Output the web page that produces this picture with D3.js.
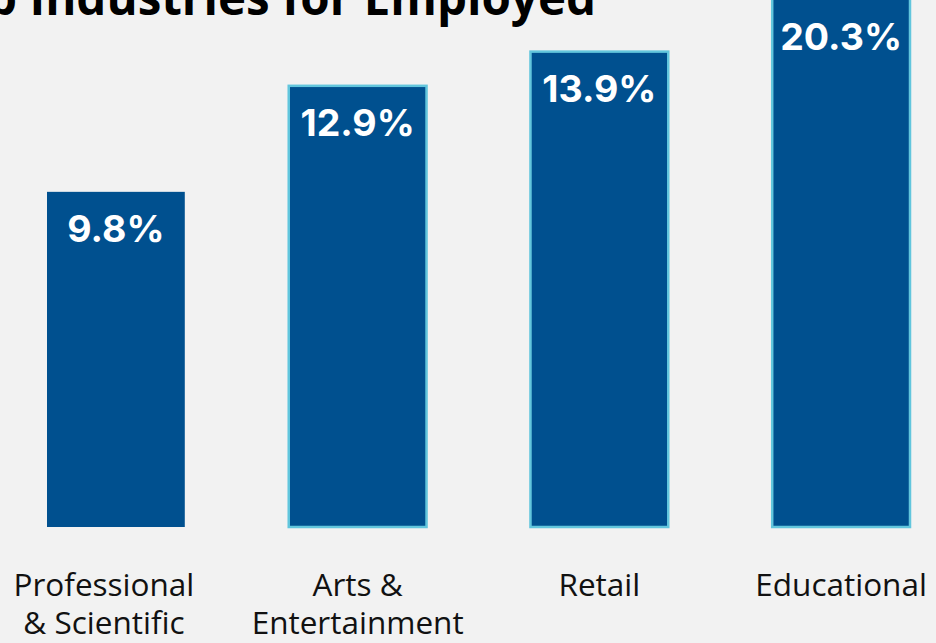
<!DOCTYPE html>
<html>
<head>
<meta charset="utf-8">
<script src="https://cdn.jsdelivr.net/npm/d3@7"></script>
<style>
  html, body { margin: 0; padding: 0; background: #f2f2f2; overflow: hidden; }
  svg { display: block; }
</style>
</head>
<body>
<div id="chart"></div>
<script>
// data
var categories = ["Professional\n& Scientific", "Arts &\nEntertainment", "Retail", "Educational"];
var values = [9.8, 12.9, 13.9, 20.3];
var title = "Top Industries for Employed";

var width = 936, height = 643;
var baseline = 527;

var svg = d3.select("#chart").append("svg")
    .attr("width", width)
    .attr("height", height)
    .attr("viewBox", [0, 0, width, height]);

svg.append("rect").attr("width", width).attr("height", height).attr("fill", "#f2f2f2");

var x = d3.scaleBand()
    .domain(d3.range(categories.length))
    .range([47, 910])
    .paddingInner(0.43)
    .paddingOuter(0);

var y = d3.scaleLinear()
    .domain([0, 15])
    .range([baseline, 14]);

// title, bleeding off the top-left like the slide
svg.append("text")
    .attr("x", 596)
    .attr("y", 15)
    .attr("text-anchor", "end")
    .attr("font-family", "'Open Sans', sans-serif")
    .attr("font-weight", 700)
    .attr("font-size", 47.5)
    .attr("fill", "#000")
    .text(title);

// bars
svg.append("g")
  .selectAll("rect")
  .data(values)
  .join("rect")
    .attr("x", (d, i) => x(i))
    .attr("y", d => y(d))
    .attr("width", x.bandwidth())
    .attr("height", d => y(0) - y(d))
    .attr("fill", "#00508f")
    .attr("stroke", (d, i) => i == 0 ? "none" : "#62c6dd")
    .attr("stroke-width", 2.5);

// value labels
svg.append("g")
  .selectAll("text")
  .data(values)
  .join("text")
    .attr("x", (d, i) => x(i) + x.bandwidth() / 2)
    .attr("y", d => Math.max(y(d), 0) + 50)
    .attr("text-anchor", "middle")
    .attr("font-family", "Inter, sans-serif")
    .attr("font-weight", 700)
    .attr("font-size", 37.5)
    .attr("fill", "#fff")
    .text(d => d.toFixed(1) + "%");

// category labels (x axis without line/ticks)
var xAxis = svg.append("g")
    .attr("transform", `translate(0,${baseline})`)
    .call(d3.axisBottom(x).tickSize(0).tickFormat(""));
xAxis.select(".domain").remove();

xAxis.selectAll(".tick").each(function(i) {
  var t = d3.select(this).append("text")
      .attr("text-anchor", "middle")
      .attr("font-family", "'Open Sans', sans-serif")
      .attr("font-size", 31.5)
      .attr("fill", "#111");
  categories[i].split("\n").forEach(function(line, j) {
    t.append("tspan")
      .attr("x", i == 0 ? -12 : 0)
      .attr("y", 69 + j * 38)
      .text(line);
  });
});
</script>
</body>
</html>
